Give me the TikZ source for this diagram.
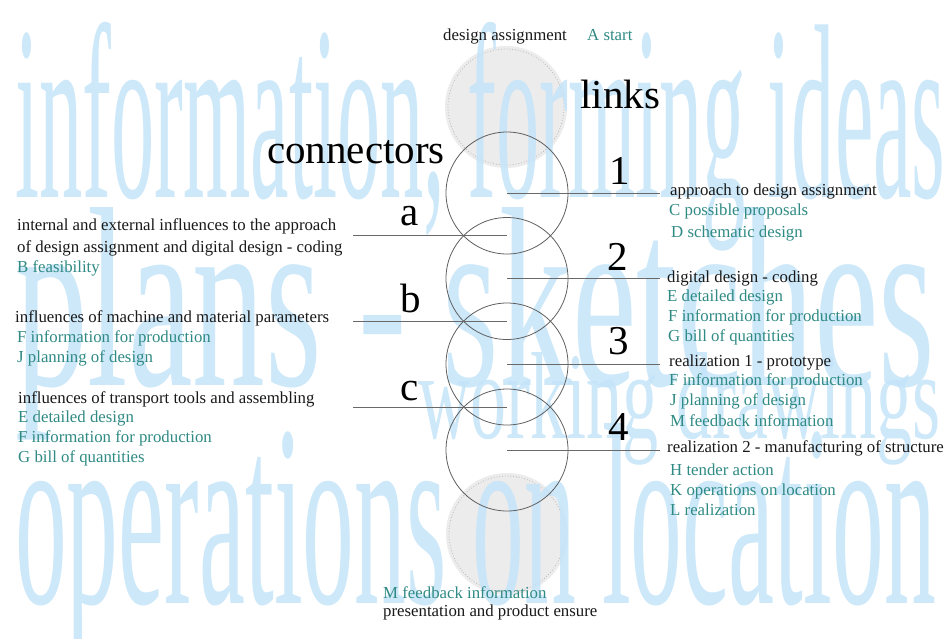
\documentclass[tikz,border=0pt]{standalone}
\usepackage{fontspec}
\setmainfont{Liberation Serif}
\usepackage{graphicx}
\definecolor{bgblue}{RGB}{196,228,249}
\definecolor{tealtxt}{RGB}{47,138,132}
\definecolor{txtblack}{RGB}{25,25,25}
\definecolor{circfill}{RGB}{237,236,236}
\definecolor{dotgray}{RGB}{185,185,185}
\definecolor{ringgray}{RGB}{95,95,95}
\definecolor{linegray}{RGB}{105,105,105}
\begin{document}
\begin{tikzpicture}[x=1pt,y=-1pt,
  graycirc/.style={circle, fill=circfill, minimum size=122pt, inner sep=0pt},
  ring/.style={circle, draw=ringgray, line width=0.8pt, minimum size=122pt, inner sep=0pt},
  bgtext/.style={anchor=base west, inner sep=0pt, text=bgblue, text opacity=0.85},
  lbl/.style={anchor=base west, inner sep=0pt, text=txtblack, font=\fontsize{16.8}{20}\selectfont},
  lblt/.style={lbl, text=tealtxt},
  big/.style={anchor=base west, inner sep=0pt, text=black, font=\fontsize{41}{41}\selectfont},
  conn/.style={draw=linegray, line width=0.9pt}]
\useasboundingbox (0,0) rectangle (949,638);
\fill[white] (0,0) rectangle (949,638);

% grey start / end discs
\node[graycirc] (gs) at (506,107) {};
\node[graycirc] (ge) at (507,534) {};
\draw[dotgray, dotted, line width=0.8pt] (gs.center) circle[radius=58pt];
\draw[dotgray, dotted, line width=0.8pt] (ge.center) circle[radius=58pt];

% background words
\node[bgtext] (bg1) at (15,197) {\resizebox{930pt}{175pt}{information, forming ideas}};
\node[bgtext] (bg2) at (15,385) {\resizebox{920pt}{178pt}{plans - sketches}};
\node[bgtext] (bg3) at (418,438) {\resizebox{522pt}{86pt}{working drawings}};
\node[bgtext] (bg4) at (15,603) {\resizebox{920pt}{180pt}{operations on location}};

% link circles
\node[ring] (c1) at (507,193) {};
\node[ring] (c2) at (507,278.5) {};
\node[ring] (c3) at (507,364) {};
\node[ring] (c4) at (507,450) {};

% titles
\node[big] (links) at (580,108) {links};
\node[big] (connectors) at (267,163) {connectors};
\node[big] (n1) at (609,184) {1};
\node[big] (n2) at (607,270) {2};
\node[big] (n3) at (608,354) {3};
\node[big] (n4) at (608,440) {4};
\node[big] (la) at (400,225) {a};
\node[big] (lb) at (400,312) {b};
\node[big] (lc) at (400,400) {c};

% top / bottom texts
\node[lbl] (tda) at (443,40) {design assignment};
\node[lblt] (tas) at (587,40) {A start};
\node[lblt] (bm) at (383,598) {M feedback information};
\node[lbl] (bp) at (383,616) {presentation and product ensure};

% right column
\node[lbl] (r1) at (670,195) {approach to design assignment};
\node[lblt] (r1a) at (669,215) {C possible proposals};
\node[lblt] (r1b) at (671,237) {D schematic design};
\node[lbl] (r2) at (667,282) {digital design - coding};
\node[lblt] (r2a) at (667,301) {E detailed design};
\node[lblt] (r2b) at (668,321) {F information for production};
\node[lblt] (r2c) at (668,341) {G bill of quantities};
\node[lbl] (r3) at (669,366) {realization 1 - prototype};
\node[lblt] (r3a) at (669,385) {F information for production};
\node[lblt] (r3b) at (670,405) {J planning of design};
\node[lblt] (r3c) at (670,426) {M feedback information};
\node[lbl] (r4) at (667,452) {realization 2 - manufacturing of structure};
\node[lblt] (r4a) at (670,475) {H tender action};
\node[lblt] (r4b) at (670,495) {K operations on location};
\node[lblt] (r4c) at (670,515) {L realization};

% left column
\node[lbl] (a1) at (17,230) {internal and external influences to the approach};
\node[lbl] (a2) at (17,252) {of design assignment and digital design - coding};
\node[lblt] (a3) at (17,272) {B feasibility};
\node[lbl] (b1) at (15,322) {influences of machine and material parameters};
\node[lblt] (b2) at (17,342) {F information for production};
\node[lblt] (b3) at (17,362) {J planning of design};
\node[lbl] (cc1) at (18,403) {influences of transport tools and assembling};
\node[lblt] (cc2) at (18,422) {E detailed design};
\node[lblt] (cc3) at (18,442) {F information for production};
\node[lblt] (cc4) at (18,462) {G bill of quantities};

% connector lines
\coordinate (e1) at (660,193);
\coordinate (e2) at (660,278.5);
\coordinate (e3) at (660,364);
\coordinate (e4) at (660,450);
\draw[conn] (c1.center) -- (e1);
\draw[conn] (c2.center) -- (e2);
\draw[conn] (c3.center) -- (e3);
\draw[conn] (c4.center) -- (e4);
\coordinate (sa) at (353,235.5);
\coordinate (sb) at (353,321.5);
\coordinate (sc) at (353,407);
\draw[conn] (sa) -- (sa -| c1.center);
\draw[conn] (sb) -- (sb -| c2.center);
\draw[conn] (sc) -- (sc -| c3.center);
\end{tikzpicture}
\end{document}
